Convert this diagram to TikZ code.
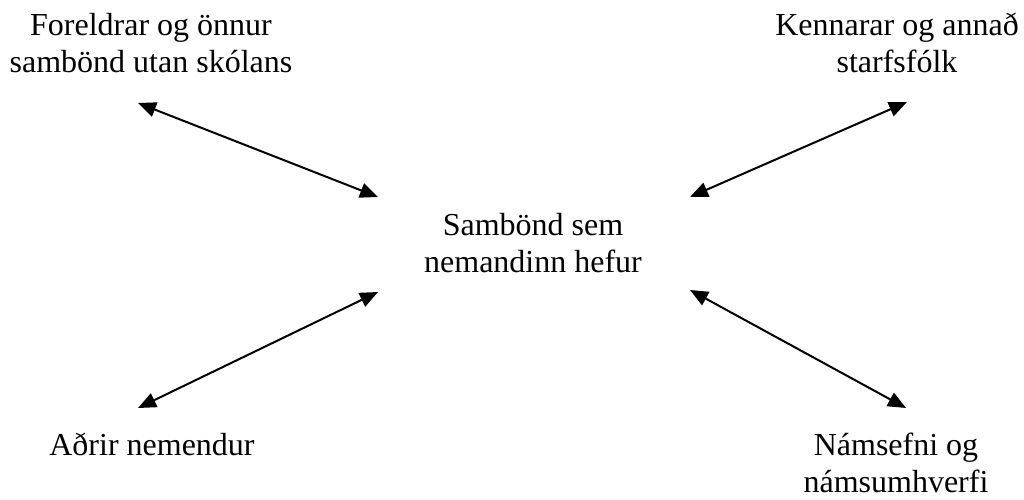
\documentclass[tikz,border=0pt]{standalone}
\usepackage{fontspec}
\setmainfont{Liberation Serif}
\usetikzlibrary{arrows.meta}
\begin{document}
\begin{tikzpicture}[x=1pt,y=-1pt,
  lbl/.style={font=\fontsize{32}{37}\selectfont, align=center, inner sep=0pt, anchor=base},
  link/.style={line width=2pt, {Triangle[length=18pt,width=15pt]}-{Triangle[length=18pt,width=15pt]}}]
\useasboundingbox (0,0) rectangle (1024,499);
\node[lbl] (par) at (151,72) {Foreldrar og önnur\\sambönd utan skólans};
\node[lbl] (tea) at (897,72) {Kennarar og annað\\starfsfólk};
\node[lbl] (stu) at (533,272) {Sambönd sem\\nemandinn hefur};
\node[lbl] (oth) at (152,455) {Aðrir nemendur};
\node[lbl] (mat) at (896,492) {Námsefni og\\námsumhverfi};
\coordinate (p1) at (138,103);
\coordinate (s1) at (378,197);
\coordinate (t1) at (907,102);
\coordinate (s2) at (690,197);
\coordinate (o1) at (138,408);
\coordinate (s3) at (378,292);
\coordinate (m1) at (906,408);
\coordinate (s4) at (690,290);
\draw[link] (p1) -- (s1);
\draw[link] (t1) -- (s2);
\draw[link] (o1) -- (s3);
\draw[link] (m1) -- (s4);
\end{tikzpicture}
\end{document}
